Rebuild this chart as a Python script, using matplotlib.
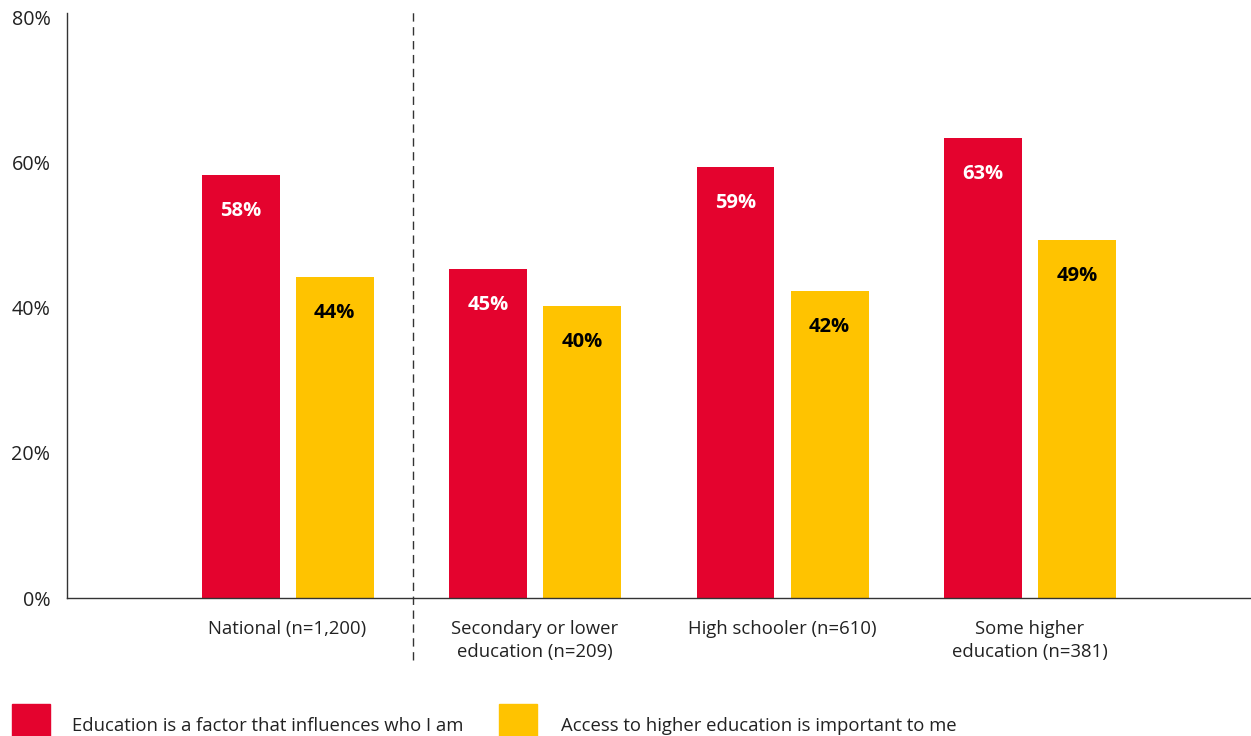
import numpy as np
import matplotlib.pyplot as plt
from matplotlib.patches import Rectangle

plt.rcParams['font.family'] = ['Open Sans', 'DejaVu Sans']

categories = ['National (n=1,200)', 'Secondary or lower\neducation (n=209)',
              'High schooler (n=610)', 'Some higher\neducation (n=381)']
influences = [58.4, 45.4, 59.5, 63.5]
access = [44.3, 40.3, 42.4, 49.4]
influences_lbl = ['58%', '45%', '59%', '63%']
access_lbl = ['44%', '40%', '42%', '49%']
series_names = ['Education is a factor that influences who I am',
                'Access to higher education is important to me']

red = '#E4032E'
yellow = '#FFC300'

fig = plt.figure(figsize=(12.51, 7.36), dpi=100)
ax = fig.add_axes([0.0536, 0.1875, 0.9464, 0.795])

x = np.arange(len(categories))
w = 0.315
off = 0.19
b1 = ax.bar(x - off, influences, w, color=red)
b2 = ax.bar(x + off, access, w, color=yellow)

for bar, lbl in zip(b1, influences_lbl):
    ax.text(bar.get_x() + bar.get_width() / 2, bar.get_height() - 5, lbl,
            ha='center', va='center', color='white', fontsize=14.5, fontweight='bold')
for bar, lbl in zip(b2, access_lbl):
    ax.text(bar.get_x() + bar.get_width() / 2, bar.get_height() - 5, lbl,
            ha='center', va='center', color='black', fontsize=14.5, fontweight='bold')

ax.set_xlim(-0.891, 3.893)
ax.set_ylim(0, 80.69)
ax.set_yticks([0, 20, 40, 60, 80])
ax.set_yticklabels(['0%', '20%', '40%', '60%', '80%'])
ax.set_xticks(x)
ax.set_xticklabels(categories, linespacing=1.35)
ax.tick_params(axis='x', length=0, pad=16, labelsize=13.3, colors='#222222')
ax.tick_params(axis='y', length=0, pad=12, labelsize=14.2, colors='#222222')

for s in ['top', 'right']:
    ax.spines[s].set_visible(False)
for s in ['left', 'bottom']:
    ax.spines[s].set_color('#333333')
    ax.spines[s].set_linewidth(1.0)

# dashed separator between national and breakdown
trans = ax.get_xaxis_transform()
ax.plot([0.507, 0.507], [-0.106, 1.005], transform=trans, color='#333333',
        lw=1, ls=(0, (6, 4)), clip_on=False)

# legend at bottom
fig.add_artist(Rectangle((12 / 1251, 0), 38 / 1251, 32 / 736,
                         transform=fig.transFigure, color=red))
fig.add_artist(Rectangle((499 / 1251, 0), 38 / 1251, 32 / 736,
                         transform=fig.transFigure, color=yellow))
fig.text(72 / 1251, 1 - 726 / 736, series_names[0], va='center', ha='left',
         fontsize=13.3, color='#222222')
fig.text(561 / 1251, 1 - 726 / 736, series_names[1], va='center', ha='left',
         fontsize=13.3, color='#222222')

fig.savefig('out.png', dpi=100)
